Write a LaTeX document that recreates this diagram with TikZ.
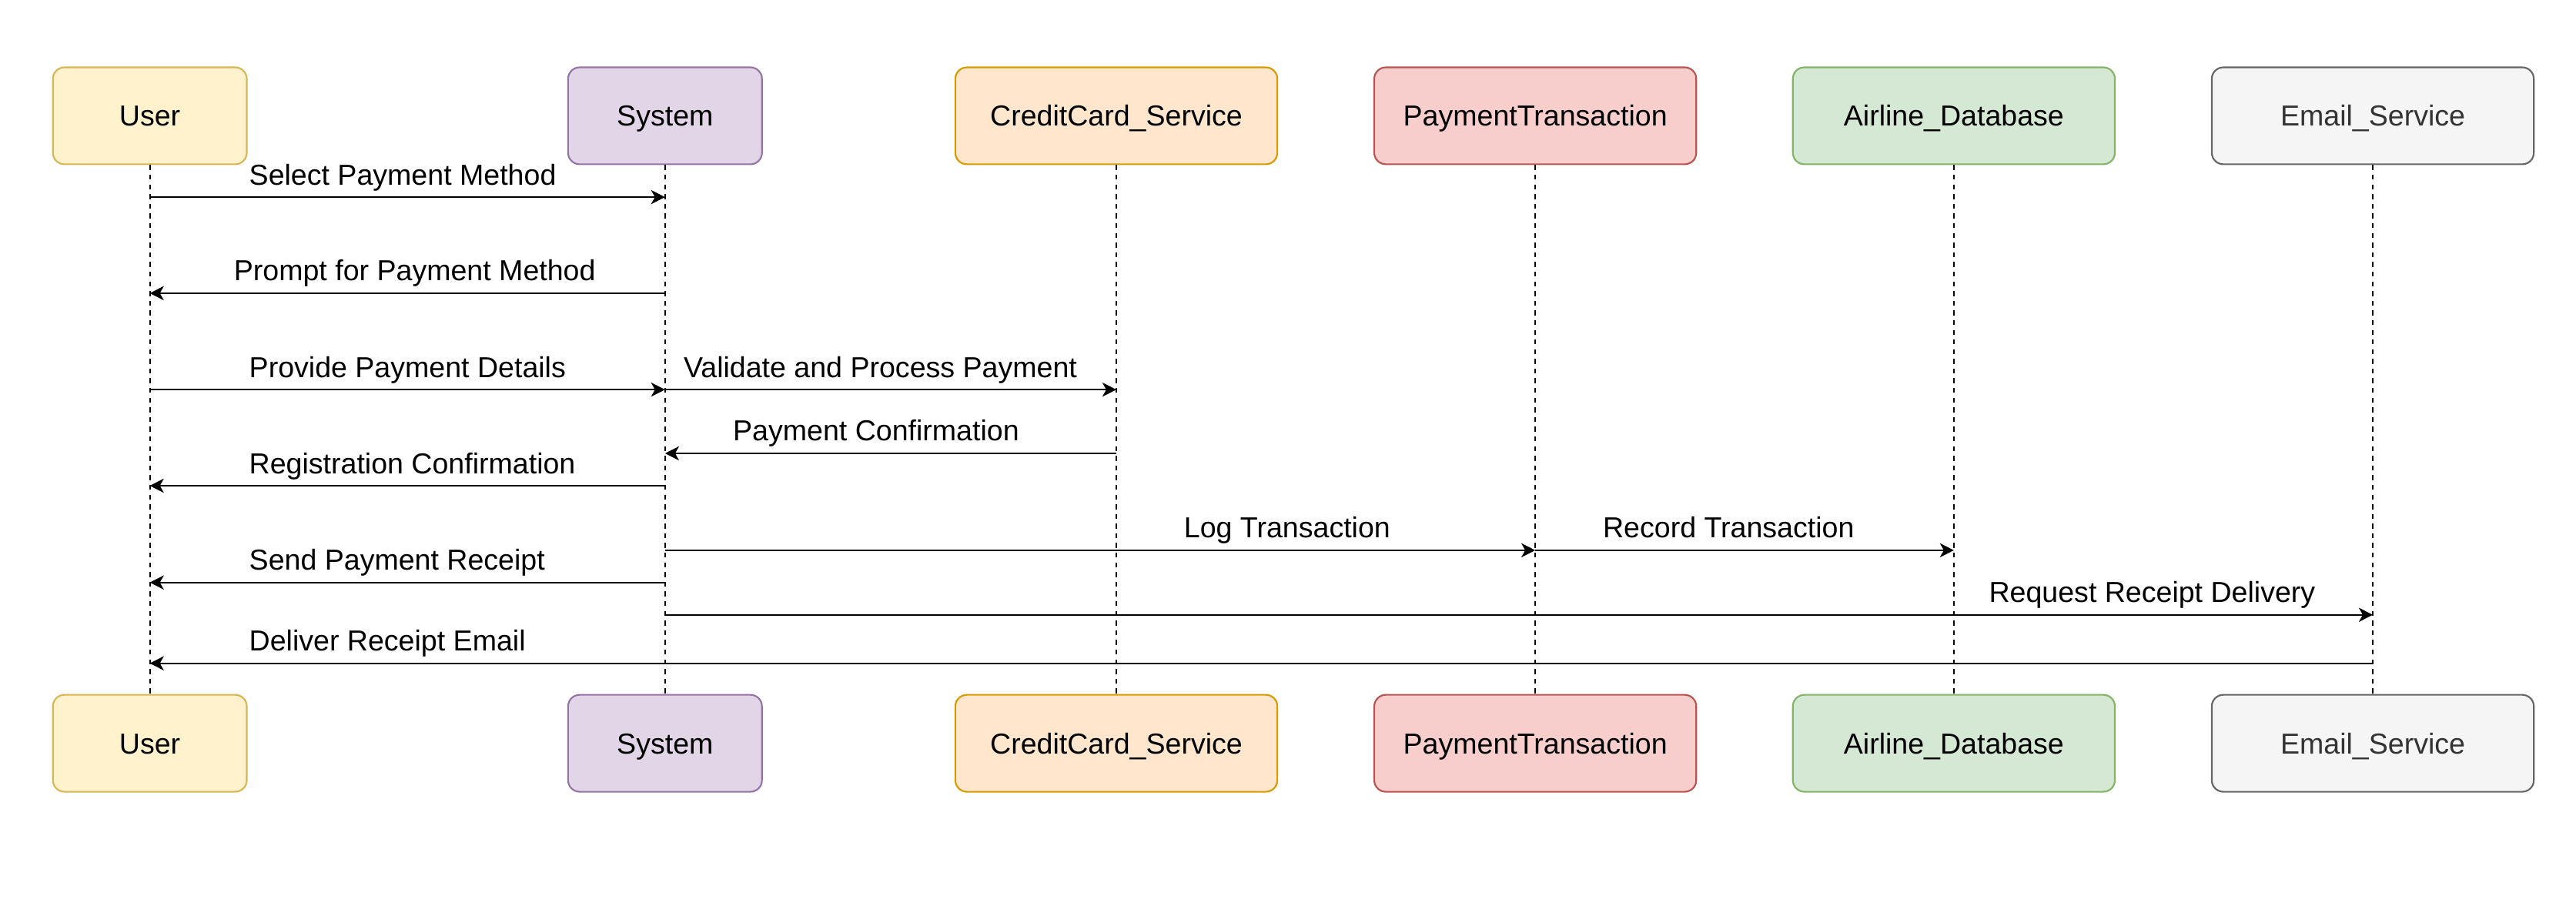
\documentclass[tikz,border=0pt]{standalone}
\usepackage{fontspec}
\setmainfont{Liberation Sans}
\usetikzlibrary{arrows.meta}
\definecolor{uFill}{HTML}{FFF2CC}\definecolor{uDraw}{HTML}{D6B656}
\definecolor{sFill}{HTML}{E1D5E7}\definecolor{sDraw}{HTML}{9673A6}
\definecolor{cFill}{HTML}{FFE6CC}\definecolor{cDraw}{HTML}{D79B00}
\definecolor{pFill}{HTML}{F8CECC}\definecolor{pDraw}{HTML}{B85450}
\definecolor{aFill}{HTML}{D5E8D4}\definecolor{aDraw}{HTML}{82B366}
\definecolor{eFill}{HTML}{F5F5F5}\definecolor{eDraw}{HTML}{666666}
\definecolor{eText}{HTML}{333333}
\begin{document}
\begin{tikzpicture}[x=1pt,y=-1pt,
  txt/.style={font=\fontsize{17.6pt}{21pt}\selectfont},
  box/.style={txt,rounded corners=7pt,minimum height=59pt,minimum width=118pt,inner sep=0pt,line width=1pt,text height=12.6pt,text depth=0pt},
  wbox/.style={box,minimum width=196pt},
  lifeline/.style={dash pattern=on 3pt off 2.9pt,line width=0.9pt},
  msg/.style={-{Stealth[length=8.5pt,width=8.6pt,inset=2.4pt]},line width=1pt},
  lbl/.style={txt,anchor=base west,inner sep=0pt}]
\useasboundingbox (0,0) rectangle (1568,557.6);
% top boxes
\node[box,fill=uFill,draw=uDraw] (uT) at (91.2,70.5) {User};
\node[box,fill=sFill,draw=sDraw] (sT) at (404.8,70.5) {System};
\node[wbox,fill=cFill,draw=cDraw] (cT) at (679.5,70.5) {CreditCard\_Service};
\node[wbox,fill=pFill,draw=pDraw] (pT) at (934.5,70.5) {PaymentTransaction};
\node[wbox,fill=aFill,draw=aDraw] (aT) at (1189.3,70.5) {Airline\_Database};
\node[wbox,fill=eFill,draw=eDraw,text=eText] (eT) at (1444.3,70.5) {Email\_Service};
% bottom boxes
\node[box,fill=uFill,draw=uDraw] (uB) at (91.2,452.5) {User};
\node[box,fill=sFill,draw=sDraw] (sB) at (404.8,452.5) {System};
\node[wbox,fill=cFill,draw=cDraw] (cB) at (679.5,452.5) {CreditCard\_Service};
\node[wbox,fill=pFill,draw=pDraw] (pB) at (934.5,452.5) {PaymentTransaction};
\node[wbox,fill=aFill,draw=aDraw] (aB) at (1189.3,452.5) {Airline\_Database};
\node[wbox,fill=eFill,draw=eDraw,text=eText] (eB) at (1444.3,452.5) {Email\_Service};
% lifelines
\foreach \n in {u,s,c,p,a,e} \draw[lifeline] (\n T.south) -- (\n B.north);
% messages
\draw[msg] (uT |- 0,120) -- (sT |- 0,120);
\node[lbl] (l1) at (151.5,112.5) {Select Payment Method};
\draw[msg] (sT |- 0,178.5) -- (uT |- 0,178.5);
\node[lbl] (l2) at (142.2,171) {Prompt for Payment Method};
\draw[msg] (uT |- 0,237.2) -- (sT |- 0,237.2);
\node[lbl] (l3) at (151.5,229.7) {Provide Payment Details};
\draw[msg] (sT |- 0,237.2) -- (cT |- 0,237.2);
\node[lbl] (l4) at (416,229.7) {Validate and Process Payment};
\draw[msg] (cT |- 0,276) -- (sT |- 0,276);
\node[lbl] (l5) at (446,268.5) {Payment Confirmation};
\draw[msg] (sT |- 0,295.7) -- (uT |- 0,295.7);
\node[lbl] (l6) at (151.5,288.2) {Registration Confirmation};
\draw[msg] (sT |- 0,335) -- (pT |- 0,335);
\node[lbl] (l7) at (720.5,327.5) {Log Transaction};
\draw[msg] (pT |- 0,335) -- (aT |- 0,335);
\node[lbl] (l8) at (975.5,327.5) {Record Transaction};
\draw[msg] (sT |- 0,354.6) -- (uT |- 0,354.6);
\node[lbl] (l9) at (151.5,347.1) {Send Payment Receipt};
\draw[msg] (sT |- 0,374.3) -- (eT |- 0,374.3);
\node[lbl] (l10) at (1210.5,366.8) {Request Receipt Delivery};
\draw[msg] (eT |- 0,403.8) -- (uT |- 0,403.8);
\node[lbl] (l11) at (151.5,396.3) {Deliver Receipt Email};
\end{tikzpicture}
\end{document}
